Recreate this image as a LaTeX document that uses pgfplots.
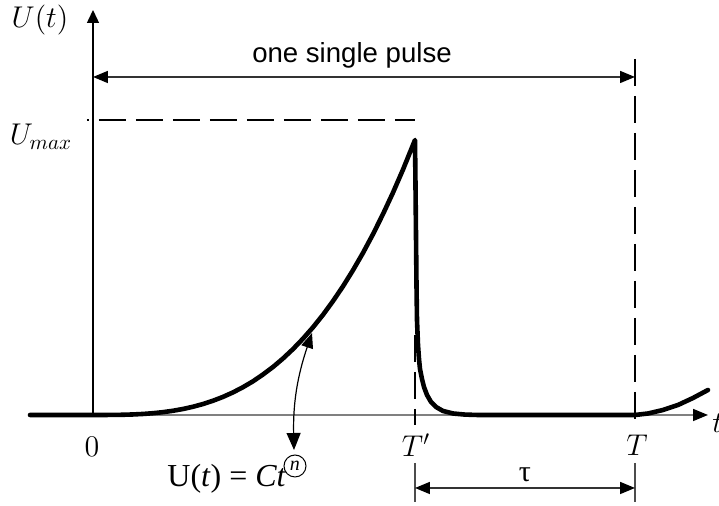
\RequirePackage{fix-cm}
\documentclass[border=0pt]{standalone}
\usepackage{fontspec}
\newfontfamily\sansf{Liberation Sans}
\newfontfamily\seriff{Liberation Serif}
\usepackage{pgfplots}
\pgfplotsset{compat=1.18}
\usetikzlibrary{arrows.meta}
\begin{document}
\begin{tikzpicture}
\begin{axis}[
  x=0.5pt, y=0.5pt,
  axis lines=middle,
  xmin=-63, xmax=615, ymin=0, ymax=405,
  xtick=\empty, ytick=\empty,
  clip=false,
  x axis line style={draw=black!50, line width=0.8pt, -{Triangle[length=7.5pt,width=6pt,color=black]}},
  y axis line style={draw=black, line width=0.7pt, -{Triangle[length=6.5pt,width=6pt]}},
]
% pulse curve
\addplot[black, line width=2.3pt, line join=round, line cap=round] coordinates {
(-63,0) (0,0) (10,0.01) (20,0.07) (30,0.22) (40,0.53) (50,1.03) (60,1.78) (70,2.83) (80,4.22)
(90,6.0) (100,8.24) (110,10.96) (120,14.24) (130,18.1) (140,22.6) (150,27.8) (160,33.7)
(170,40.5) (180,48.0) (190,56.5) (200,65.9) (210,76.3) (220,87.7) (230,100.2) (240,113.9)
(250,128.7) (260,144.8) (270,162.1) (280,180.8) (290,200.9) (300,222.4) (310,245.4) (322,275)
(322.5,230) (323,180) (323.5,130) (324,95) (325,70) (326,56) (327,46) (329,36) (331,28)
(334,20) (338,13) (343,8) (350,4) (360,1.5) (372,0.4) (385,0)
(542,0) (555,1.5) (570,5) (585,10) (600,17) (615,25)
};
% dashed guides
\addplot[black, line width=1.4pt, dash pattern=on 13.5pt off 5pt, dash phase=12.5pt] coordinates {(-6,295) (322,295)};
\addplot[black, line width=1.4pt, dash pattern=on 13.5pt off 5pt] coordinates {(542,356) (542,-10)};
\addplot[black, line width=1.4pt, dash pattern=on 13.5pt off 5pt] coordinates {(322,80) (322,-10)};
% one single pulse arrow
\draw[black!80, line width=0.8pt, {Triangle[length=7.5pt,width=6pt,color=black]}-{Triangle[length=7.5pt,width=6pt,color=black]}] (axis cs:0,338) -- (axis cs:542,338);
\node[font=\sansf\fontsize{13.8}{16}\selectfont, anchor=base] at (axis cs:259,352) {one single pulse};
% tau
\draw[black!70, line width=0.6pt] (axis cs:322,-48) -- (axis cs:322,-87);
\draw[black!70, line width=0.6pt] (axis cs:542,-48) -- (axis cs:542,-87);
\draw[black!80, line width=0.8pt, {Triangle[length=7.5pt,width=6pt,color=black]}-{Triangle[length=7.5pt,width=6pt,color=black]}] (axis cs:322,-73) -- (axis cs:542,-73);
\node[font=\seriff\fontsize{15}{18}\selectfont, anchor=base] at (axis cs:432,-67) {τ};
% curved arrow and formula
\draw[black, line width=0.6pt, {Triangle[length=7.5pt,width=6pt]}-{Triangle[length=8.5pt,width=7pt]}] (axis cs:219,82) to[bend right=10] (axis cs:201,-35);
\node[font=\seriff\fontsize{16}{19}\selectfont, anchor=base west, inner sep=0pt] at (axis cs:74,-72) {U(\textit{t}) = \textit{Ct}};
\node[draw, circle, line width=0.5pt, minimum size=11pt, inner sep=0pt, font=\seriff\itshape\fontsize{10}{12}\selectfont] at (axis cs:202,-51) {n};
% labels
\node[font=\fontsize{15}{18}\selectfont] at (axis cs:-53,395) {$U(t)$};
\node[font=\fontsize{15}{18}\selectfont] at (axis cs:-52,278) {$U_{max}$};
\node[font=\fontsize{15}{18}\selectfont] at (axis cs:-1,-32) {$0$};
\node[font=\fontsize{15}{18}\selectfont] at (axis cs:323,-30) {$T'$};
\node[font=\fontsize{15}{18}\selectfont] at (axis cs:544,-30) {$T$};
\node[font=\fontsize{15}{18}\selectfont, anchor=west, inner sep=0pt] at (axis cs:619,-8) {$t$};
% bounding box corners
\coordinate (bbsw) at (axis cs:-93,-91);
\coordinate (bbne) at (axis cs:626,415);
\end{axis}
\pgfresetboundingbox
\path[use as bounding box] (bbsw) rectangle (bbne);
\end{tikzpicture}
\end{document}
